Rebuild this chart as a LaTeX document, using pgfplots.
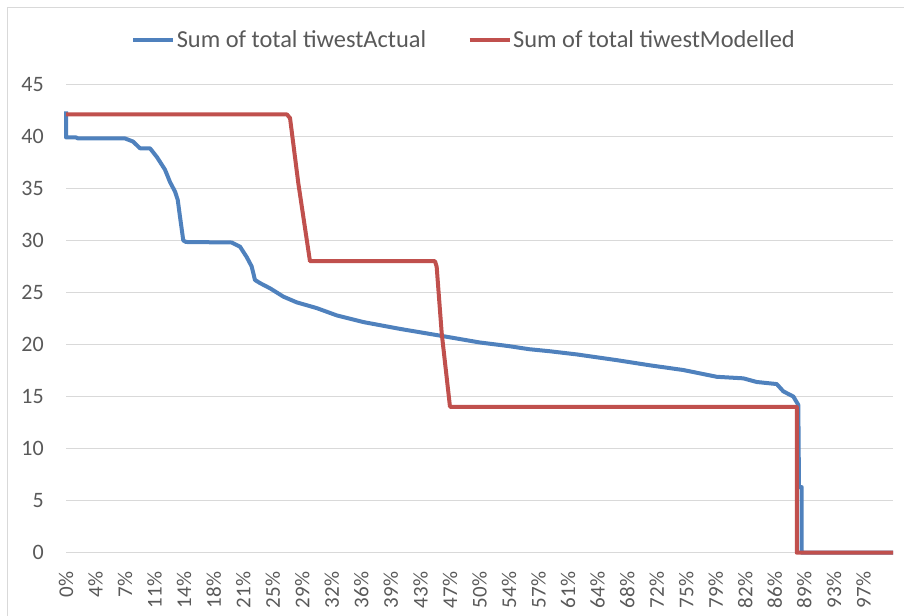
\documentclass[border=0pt]{standalone}
\usepackage{fontspec}
\setmainfont{Carlito}
\usepackage{pgfplots}
\pgfplotsset{compat=1.18}
\definecolor{actualblue}{HTML}{4F81BD}
\definecolor{modelred}{HTML}{C0504D}
\definecolor{gridgray}{HTML}{D9D9D9}
\definecolor{labelgray}{HTML}{595959}

\begin{document}
\begin{tikzpicture}[x=1bp,y=1bp]
\useasboundingbox (0,0) rectangle (904,616);
\draw[gridgray, line width=1bp] (7,0) -- (7,608) -- (904,608);
\begin{axis}[at={(66bp,63.3bp)}, anchor=south west, scale only axis,
 width=827bp, height=468.4bp,
 xmin=0, xmax=100, ymin=0, ymax=45, enlargelimits=false, clip=false,
 ytick={0,5,...,45},
 xtick={0,3.5714,7.1429,10.7143,14.2857,17.8571,21.4286,25,28.5714,32.1429,35.7143,39.2857,42.8571,46.4286,50,53.5714,57.1429,60.7143,64.2857,67.8571,71.4286,75,78.5714,82.1429,85.7143,89.2857,92.8571,96.4286},
 xticklabels={0\%,4\%,7\%,11\%,14\%,18\%,21\%,25\%,29\%,32\%,36\%,39\%,43\%,47\%,50\%,54\%,57\%,61\%,64\%,68\%,72\%,75\%,79\%,82\%,86\%,89\%,93\%,97\%},
 ymajorgrids, grid style={gridgray, line width=1bp},
 axis line style={draw=none}, major tick length=0pt, tick style={draw=none},
 /pgf/number format/assume math mode=true,
 tick label style={font=\fontsize{21bp}{24bp}\selectfont, text=labelgray, inner sep=0pt},
 yticklabel style={anchor=east, font=\fontsize{22bp}{25bp}\selectfont}, yticklabel shift=22bp,
 xticklabel style={rotate=90, anchor=east}, xticklabel shift=19bp,
 legend columns=2,
 legend style={at={(0.481,1.0946)}, anchor=center, draw=none, fill=none,
  font=\fontsize{24.4bp}{27bp}\selectfont, text=labelgray,
  nodes={inner sep=1.5bp}, column sep=0pt,
  /tikz/every even column/.append style={column sep=40bp}},
 legend image code/.code={\draw[#1] (0bp,0bp) -- (40bp,0bp);},
]
\addplot[actualblue, line width=4bp, line join=round] coordinates {
 (0,42.4) (0,39.9) (1.2,39.9) (1.45,39.8) (7.13,39.8) (8.1,39.5) (8.95,38.85)
 (10.16,38.85) (11.0,38.0) (11.97,36.8) (12.58,35.6) (13.18,34.7) (13.51,33.9)
 (13.78,32.3) (14.18,30.0) (14.51,29.85) (20.04,29.8) (21.04,29.4) (21.85,28.4)
 (22.45,27.5) (22.85,26.2) (23.46,25.9) (24.67,25.4) (26.28,24.6) (27.9,24.05)
 (30.31,23.5) (32.73,22.8) (36.0,22.15) (40.39,21.5) (45.62,20.8) (50,20.2)
 (53.5,19.85) (56,19.55) (58.53,19.35) (61.75,19.05) (66.59,18.5) (70.62,18.0)
 (74.64,17.55) (78.68,16.9) (81.9,16.75) (83.52,16.4) (85.94,16.2) (86.74,15.5)
 (87.95,15.0) (88.55,14.2) (88.63,6.3) (88.96,6.3) (88.96,0) (100,0)};
\addlegendentry{Sum of total tiwestActual}
\addplot[modelred, line width=4bp, line join=round] coordinates {
 (0,42.1) (26.72,42.1) (27.09,41.75) (28.09,35.5) (29.5,28.0) (44.62,28.0)
 (44.82,27.47) (45.43,21.08) (46.43,14.02) (88.36,14.0) (88.36,0) (100,0)};
\addlegendentry{Sum of total tiwestModelled}
\end{axis}
\end{tikzpicture}
\end{document}
